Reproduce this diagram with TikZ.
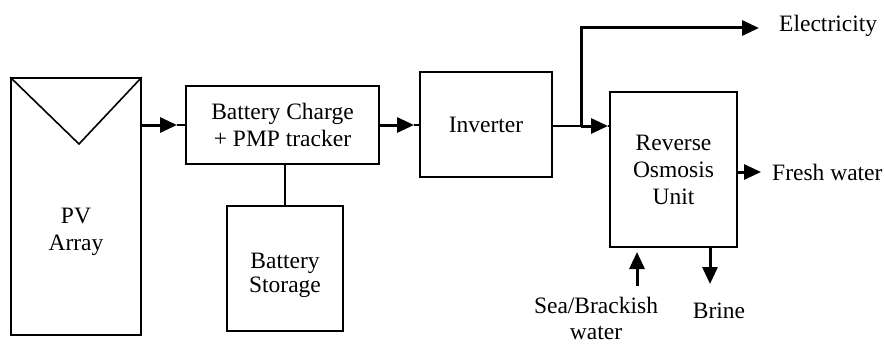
\documentclass[tikz,border=0pt]{standalone}
\usepackage{fontspec}
\setmainfont{Liberation Serif}
\usetikzlibrary{arrows.meta}
\begin{document}
\begin{tikzpicture}[x=1pt,y=-1pt,
  box/.style={draw,line width=1.6pt,inner sep=0pt,align=center,font=\fontsize{23.5}{27}\selectfont},
  txt/.style={inner sep=0pt,align=center,font=\fontsize{23.5}{27}\selectfont},
  thin/.style={line width=1.5pt},
  thk/.style={line width=3pt,-{Triangle[length=17pt,width=15pt]}},
  thkplain/.style={line width=3pt}]
\useasboundingbox (0,0) rectangle (885,345);
% boxes
\node[box,minimum width=130pt,minimum height=257pt] (pv) at (76,206.5) {};
\node[txt] (pvt) at (76,232) {PV\\Array};
\node[box,minimum width=193pt,minimum height=78pt] (bc) at (282.5,125) {Battery Charge\\+ PMP tracker};
\node[box,minimum width=116pt,minimum height=125pt,text depth=0pt] (bs) at (285,268.5) {\raisebox{-8pt}{\shortstack{Battery\\Storage}}};
\node[box,minimum width=132pt,minimum height=105pt] (inv) at (486,124.5) {Inverter};
\node[box,minimum width=127pt,minimum height=155pt] (ro) at (673.5,169.5) {Reverse\\Osmosis\\Unit};
% PV triangle
\draw[line width=1.6pt,line join=miter] (pv.north west) -- (79,144) -- (pv.north east);
% PV -> BC
\coordinate (a1) at (177,125);
\draw[thin] (a1) -- (bc.west);
\draw[thk] (pv.east|-a1) -- (a1);
% BC -> Inverter
\coordinate (a2) at (414,125);
\draw[thin] (a2) -- (inv.west|-a2);
\draw[thk] (bc.east|-a2) -- (a2);
% BC -- BS
\draw[thin] (bc.south-|bs.north) -- (bs.north);
% Inverter -> RO
\coordinate (j) at (581,126);
\coordinate (a3) at (608,126);
\coordinate (up) at (581,28);
\coordinate (a4) at (759,28);
\draw[thin] (inv.east|-j) -- (j);
\draw[thin] (a3) -- (ro.west|-a3);
\draw[thk] (j) -- (a3);
\draw[thk,line join=miter] (j) -- (up) -- (a4);
\node[txt,anchor=west] (elec) at (779,26) {Electricity};
% Fresh water
\coordinate (a5) at (761,172);
\draw[thk] (ro.east|-a5) -- (a5);
\node[txt,anchor=west] (fw) at (772,172) {Fresh water};
% Sea water
\coordinate (s0) at (637,286);
\coordinate (s1) at (637,252);
\draw[thk] (s0) -- (s1);
\node[txt,font=\fontsize{23.5}{26}\selectfont] (sea) at (596,318) {Sea/Brackish\\water};
% Brine
\coordinate (b1) at (710,284);
\draw[thk] (ro.south-|b1) -- (b1);
\node[txt] (brine) at (719,311) {Brine};
\end{tikzpicture}
\end{document}
